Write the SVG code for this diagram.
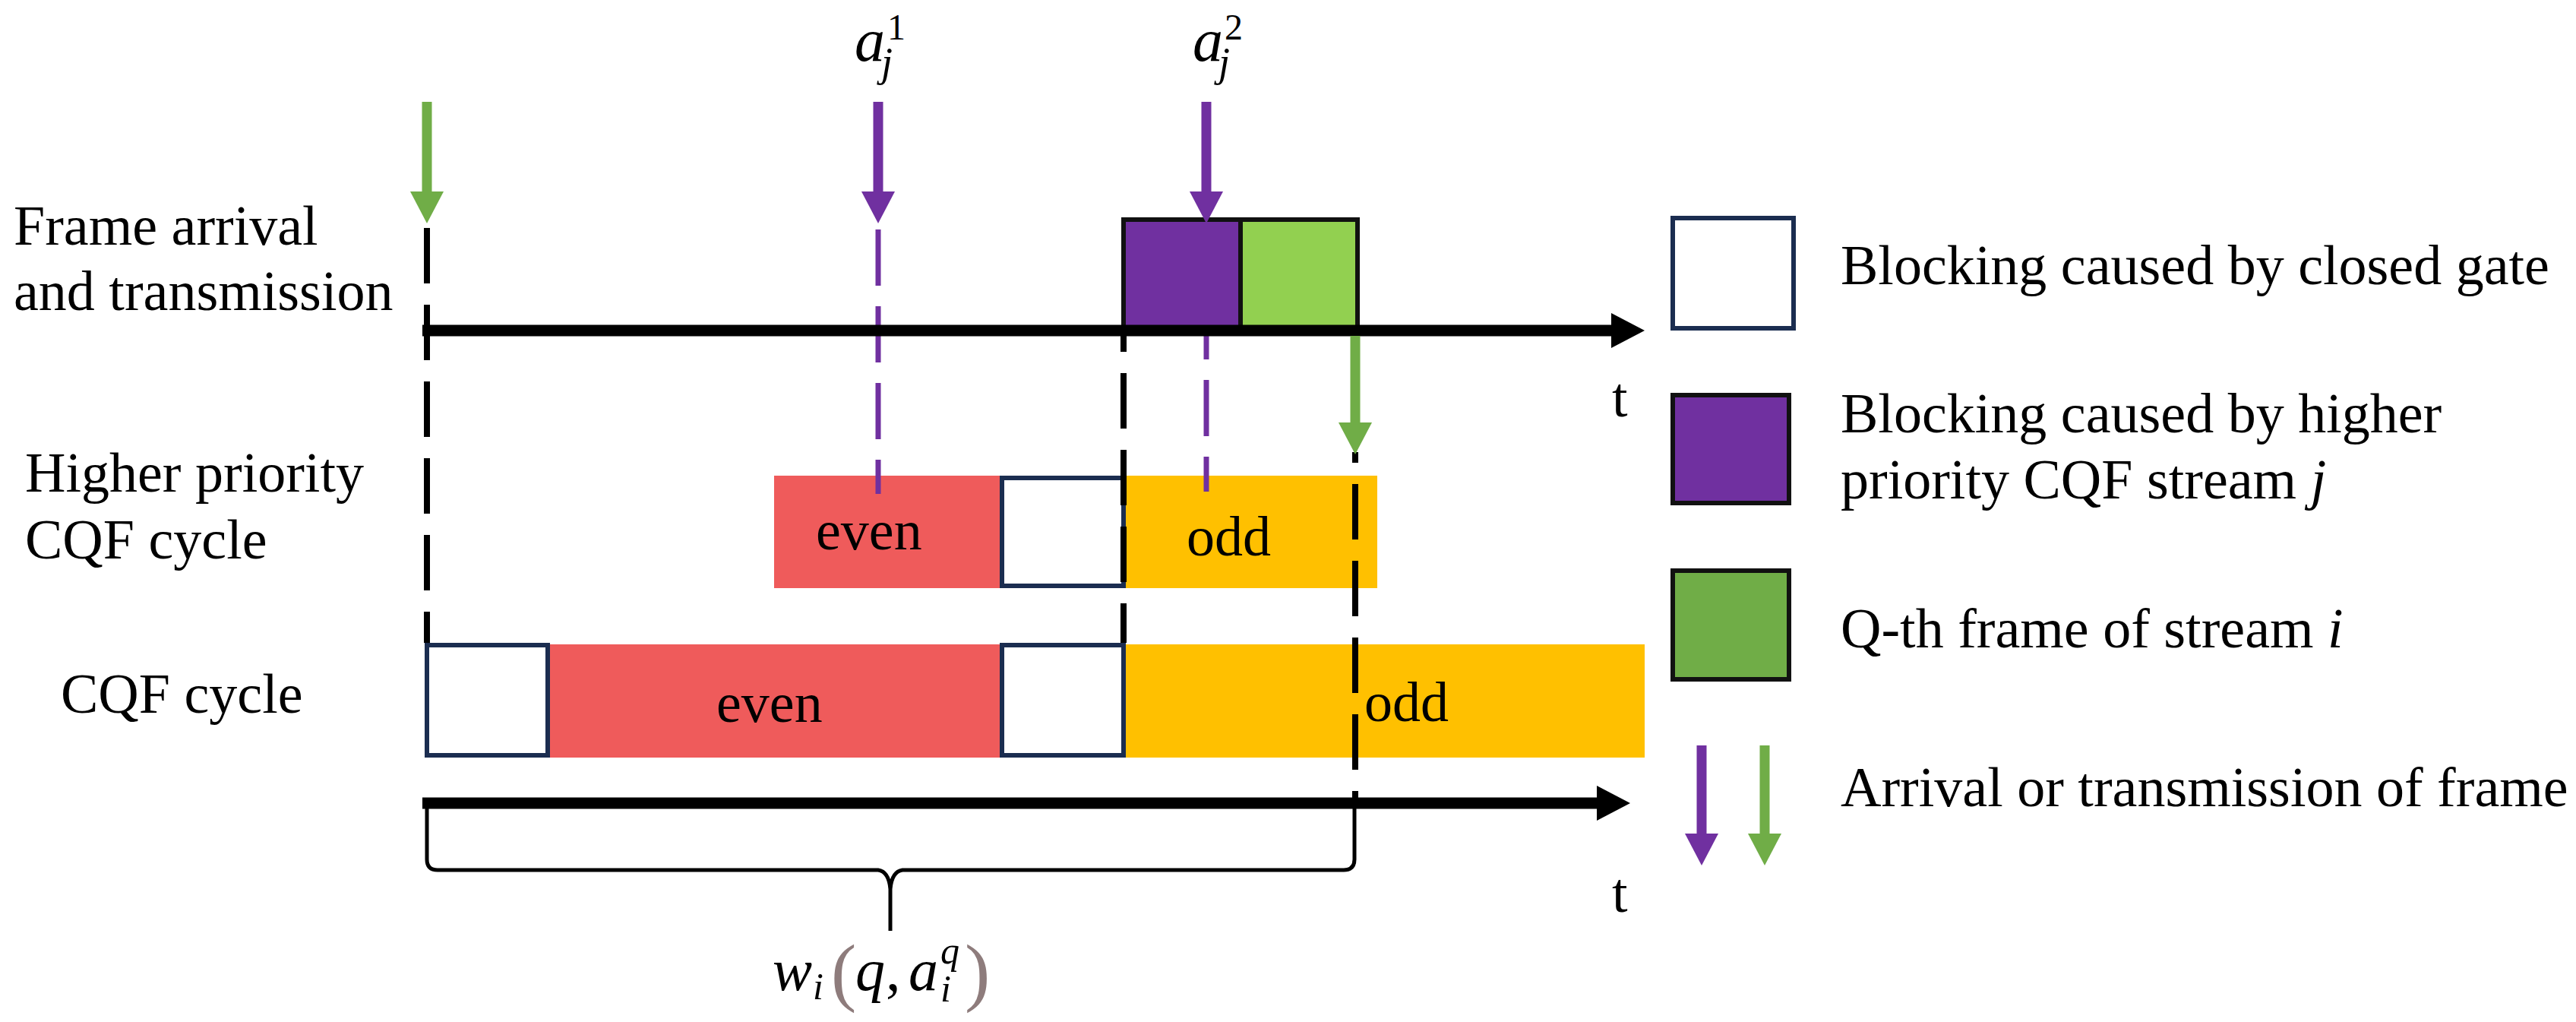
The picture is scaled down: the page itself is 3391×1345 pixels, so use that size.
<svg xmlns="http://www.w3.org/2000/svg" width="3391" height="1345" viewBox="0 0 3391 1345">
<defs>
<style>
.lbl{font-family:"Liberation Serif","Times New Roman",serif;font-size:74px;fill:#000}
.math{font-family:"Liberation Serif","Times New Roman",serif;font-style:italic;fill:#000}
.gate{fill:#fff;stroke:#1b2d50;stroke-width:6}
.even{fill:#ef5b5b}
.odd{fill:#ffc000}
.frameP{fill:#7030a0;stroke:#111;stroke-width:6}
.frameG{fill:#92d050;stroke:#111;stroke-width:6}
.dashK{stroke:#000;stroke-width:8;stroke-dasharray:73 28;fill:none}
.dashP{stroke:#7030a0;stroke-width:7;stroke-dasharray:74 27;fill:none}
.arrP{stroke:#7030a0;stroke-width:13;fill:none}
.arrG{stroke:#70ad47;stroke-width:13;fill:none}
.axis{stroke:#000;stroke-width:15;fill:none}
</style>
<marker id="hP" markerUnits="userSpaceOnUse" markerWidth="42" markerHeight="44" viewBox="0 0 42 44" refX="0" refY="22" orient="auto"><path d="M0,0 L42,22 L0,44 z" fill="#7030a0"/></marker>
<marker id="hG" markerUnits="userSpaceOnUse" markerWidth="42" markerHeight="44" viewBox="0 0 42 44" refX="0" refY="22" orient="auto"><path d="M0,0 L42,22 L0,44 z" fill="#70ad47"/></marker>
<marker id="hK" markerUnits="userSpaceOnUse" markerWidth="44" markerHeight="46" viewBox="0 0 44 46" refX="0" refY="23" orient="auto"><path d="M0,0 L44,23 L0,46 z" fill="#000"/></marker>
</defs>
<rect width="3391" height="1345" fill="#fff"/>

<!-- row labels -->
<g id="label-frame">
<text class="lbl" x="18" y="322">Frame arrival</text>
<text class="lbl" x="18" y="408">and transmission</text>
</g>
<g id="label-hp">
<text class="lbl" x="33" y="647">Higher priority</text>
<text class="lbl" x="33" y="735">CQF cycle</text>
</g>
<g id="label-cqf">
<text class="lbl" x="80" y="938">CQF cycle</text>
</g>

<!-- higher priority CQF cycle row -->
<g id="hp-even"><rect class="even" x="1019" y="626" width="297" height="148"/><text class="lbl" x="1074" y="723">even</text></g>
<g id="hp-gate"><rect class="gate" x="1319" y="629" width="160" height="142"/></g>
<g id="hp-odd"><rect class="odd" x="1482" y="626" width="331" height="148"/><text class="lbl" x="1562" y="731">odd</text></g>

<!-- CQF cycle row -->
<g id="cqf-gate1"><rect class="gate" x="562" y="849" width="159" height="145"/></g>
<g id="cqf-even"><rect class="even" x="724" y="848" width="592" height="149"/><text class="lbl" x="943" y="950">even</text></g>
<g id="cqf-gate2"><rect class="gate" x="1319" y="849" width="160" height="145"/></g>
<g id="cqf-odd"><rect class="odd" x="1482" y="848" width="683" height="149"/><text class="lbl" x="1796" y="949">odd</text></g>

<!-- frames on the timeline -->
<g id="frame-j"><rect class="frameP" x="1479" y="289" width="154" height="143"/></g>
<g id="frame-i"><rect class="frameG" x="1633" y="289" width="154" height="143"/></g>

<g id="connectors">
<!-- dashed guides -->
<line class="dashK" x1="562" y1="300" x2="562" y2="846"/>
<line class="dashK" x1="1479" y1="432" x2="1479" y2="846" stroke-dashoffset="42"/>
<line class="dashK" x1="1784" y1="595" x2="1784" y2="1062" stroke-dashoffset="59"/>
<line class="dashP" x1="1156" y1="302" x2="1156" y2="650"/>
<line class="dashP" x1="1588" y1="432" x2="1588" y2="647" stroke-dashoffset="33"/>
<!-- time axes -->
<line class="axis" x1="556" y1="435" x2="2121" y2="435" marker-end="url(#hK)"/>
<line class="axis" x1="556" y1="1057" x2="2102" y2="1057" marker-end="url(#hK)"/>
<!-- event arrows -->
<line class="arrG" x1="562" y1="134" x2="562" y2="252" marker-end="url(#hG)"/>
<line class="arrP" x1="1156" y1="134" x2="1156" y2="252" marker-end="url(#hP)"/>
<line class="arrP" x1="1588" y1="134" x2="1588" y2="252" marker-end="url(#hP)"/>
<line class="arrG" x1="1784" y1="442" x2="1784" y2="556" marker-end="url(#hG)"/>
<!-- brace -->
<path d="M562,1064 L562,1131 Q562,1145 576,1145 L1156,1145 Q1170,1147 1172,1170 L1172,1225 M1172,1170 Q1174,1147 1188,1145 L1769,1145 Q1783,1145 1783,1131 L1783,1064" fill="none" stroke="#000" stroke-width="5"/>
</g>

<!-- axis labels -->
<g id="t-axis1"><text class="lbl" x="2122" y="548">t</text></g>
<g id="t-axis2"><text class="lbl" x="2122" y="1200">t</text></g>

<!-- arrival labels -->
<g id="label-aj1">
<text class="math" font-size="80" x="1125" y="80">a<tspan font-style="normal" font-size="48" x="1168" y="52">1</tspan><tspan font-size="54" x="1160" y="100">j</tspan></text>
</g>
<g id="label-aj2">
<text class="math" font-size="80" x="1570" y="80">a<tspan font-style="normal" font-size="48" x="1612" y="52">2</tspan><tspan font-size="54" x="1604" y="100">j</tspan></text>
</g>

<!-- waiting time label -->
<g id="label-w">
<text class="math" font-size="78" x="1017" y="1303">w<tspan font-size="50" x="1070" y="1315">i</tspan><tspan font-style="normal" font-size="100" fill="#8e7c7c" x="1094" y="1312">(</tspan><tspan x="1126" y="1303">q</tspan><tspan font-style="normal" x="1166" y="1303">,</tspan><tspan x="1196" y="1303">a</tspan><tspan font-size="50" x="1238" y="1268">q</tspan><tspan font-size="50" x="1238" y="1318">i</tspan><tspan font-style="normal" font-size="100" fill="#8e7c7c" x="1270" y="1312">)</tspan></text>
</g>

<!-- legend -->
<g id="legend-gate">
<rect class="gate" x="2202" y="287" width="159" height="145"/>
<text class="lbl" x="2423" y="374">Blocking caused by closed gate</text>
</g>
<g id="legend-higher">
<rect class="frameP" x="2202" y="520" width="153" height="142"/>
<text class="lbl" x="2423" y="569">Blocking caused by higher</text>
<text class="lbl" x="2423" y="656">priority CQF stream <tspan font-style="italic">j</tspan></text>
</g>
<g id="legend-frame">
<rect class="frameG" x="2202" y="751" width="153" height="143" style="fill:#70ad47"/>
<text class="lbl" x="2423" y="852">Q-th frame of stream <tspan font-style="italic">i</tspan></text>
</g>
<g id="legend-arrows">
<line class="arrP" x1="2240" y1="981" x2="2240" y2="1097" marker-end="url(#hP)"/>
<line class="arrG" x1="2323" y1="981" x2="2323" y2="1097" marker-end="url(#hG)"/>
<text class="lbl" x="2423" y="1061">Arrival or transmission of frame</text>
</g>
</svg>
